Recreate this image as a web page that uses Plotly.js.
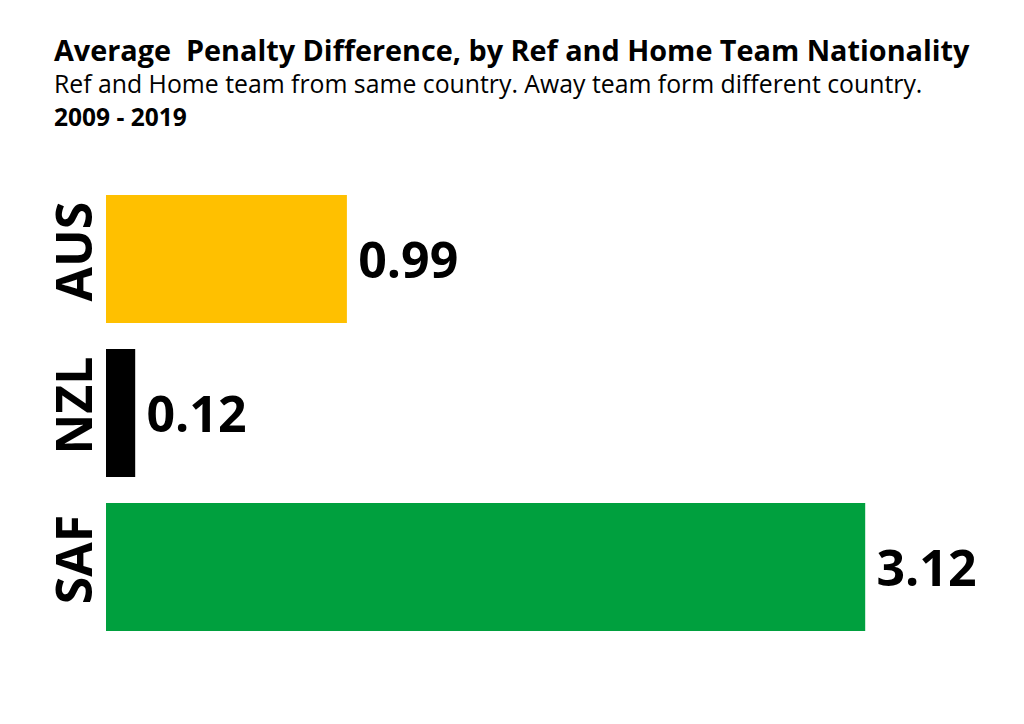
<!DOCTYPE html>
<html>
<head>
<meta charset="utf-8">
<script src="https://cdn.plot.ly/plotly-3.0.1.min.js"></script>
<style>
  html, body { margin: 0; padding: 0; background: #fff; }
  #plot { width: 1024px; height: 724px; }
</style>
</head>
<body>
<div id="plot"></div>
<script>
const teams = ['AUS', 'NZL', 'SAF'];
const penaltyDiff = [0.99, 0.12, 3.12];
const valueLabels = ['0.99', '0.12', '3.12'];
const barColors = ['#FFC000', '#000000', '#00A03E'];

const FONT = '"Open Sans", "Liberation Sans", sans-serif';

const trace = {
    type: 'bar',
    orientation: 'h',
    x: penaltyDiff,
    y: teams,
    marker: { color: barColors },
    width: 0.83,
    text: valueLabels,
    texttemplate: '\u2009%{text}',
    textposition: 'outside',
    cliponaxis: false,
    textfont: { family: FONT, size: 50, weight: 700, color: '#000' },
    hoverinfo: 'none'
};

const layout = {
    width: 1024,
    height: 724,
    paper_bgcolor: '#fff',
    plot_bgcolor: '#fff',
    margin: { t: 182, b: 80, l: 106, r: 42 },
    showlegend: false,
    xaxis: {
        range: [0, 3.6],
        visible: false,
        fixedrange: true
    },
    yaxis: {
        autorange: 'reversed',
        tickangle: -90,
        tickfont: { family: FONT, size: 50, weight: 700, color: '#000' },
        ticks: '',
        ticklabelstandoff: 3,
        showline: false,
        showgrid: false,
        zeroline: false,
        fixedrange: true
    },
    annotations: [
        {
            text: 'Average  Penalty Difference, by Ref and Home Team Nationality',
            xref: 'paper', yref: 'paper', x: -0.062, y: 1.0,
            xanchor: 'left', yanchor: 'bottom', yshift: 111,
            showarrow: false,
            font: { family: FONT, size: 28.8, weight: 700, color: '#000' }
        },
        {
            text: 'Ref and Home team from same country. Away team form different country.',
            xref: 'paper', yref: 'paper', x: -0.062, y: 1.0,
            xanchor: 'left', yanchor: 'bottom', yshift: 80,
            showarrow: false,
            font: { family: FONT, size: 24.8, color: '#000' }
        },
        {
            text: '2009 - 2019',
            xref: 'paper', yref: 'paper', x: -0.062, y: 1.0,
            xanchor: 'left', yanchor: 'bottom', yshift: 47,
            showarrow: false,
            font: { family: FONT, size: 24.5, weight: 700, color: '#000' }
        }
    ]
};

Plotly.newPlot('plot', [trace], layout, { displayModeBar: false, staticPlot: true });
</script>
</body>
</html>
